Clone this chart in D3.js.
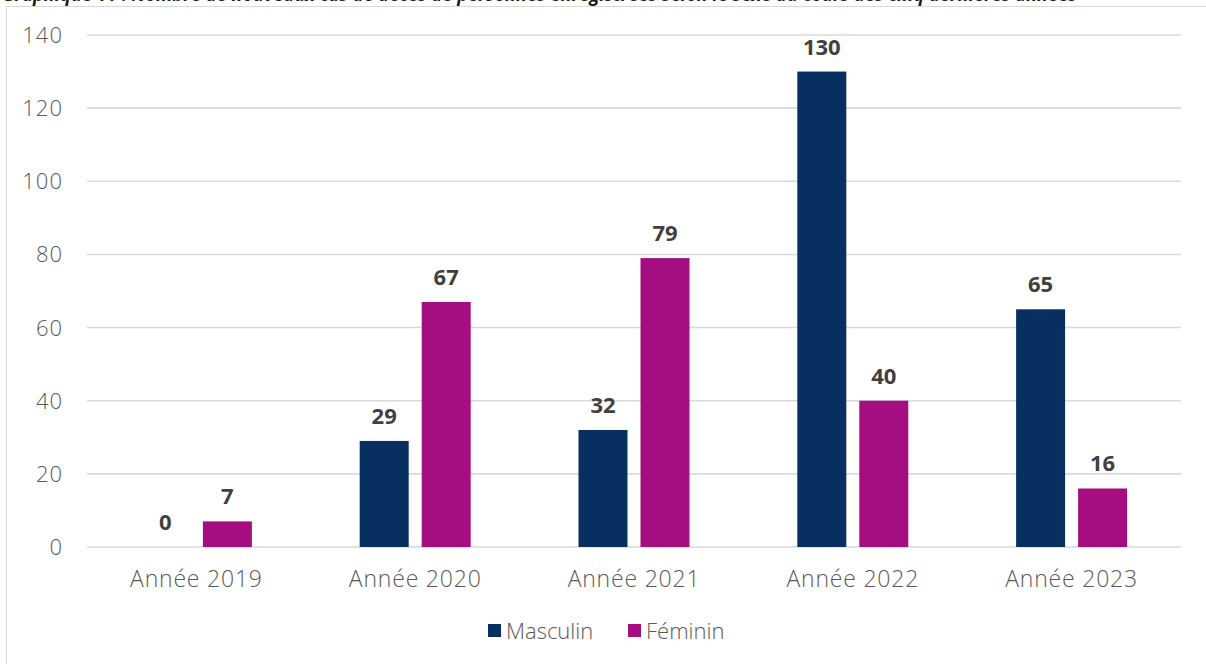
<!DOCTYPE html>
<html>
<head>
<meta charset="utf-8">
<script src="https://cdn.jsdelivr.net/npm/d3@7"></script>
<style>
  body { margin: 0; background: #fff; }
  svg { display: block; font-family: "Open Sans", sans-serif; }
</style>
</head>
<body>
<svg></svg>
<script>
const size = {w: 1206, h: 664};
const margin = {t: 35, r: 25, b: 117, l: 87};

// data
const years = ['Année 2019', 'Année 2020', 'Année 2021', 'Année 2022', 'Année 2023'];
const series = ['Masculin', 'Féminin'];
const masculin = [0, 29, 32, 130, 65];
const feminin = [7, 67, 79, 40, 16];
const yTicks = [0, 20, 40, 60, 80, 100, 120, 140];
const colors = ['#072f5f', '#a50e80'];
const title = 'Graphique 11 : Nombre de nouveaux cas de décès de personnes enregistrées selon le sexe au cours des cinq dernières années';

const values = [masculin, feminin];

const svg = d3.select('svg')
    .attr('width', size.w)
    .attr('height', size.h);

// title, cut off by the top edge as in the picture
svg.append('text')
    .attr('x', 2)
    .attr('y', 0.5)
    .attr('font-size', 19)
    .attr('font-weight', 'bold')
    .attr('font-style', 'italic')
    .attr('fill', '#1a1a1a')
    .attr('textLength', 1075)
    .attr('lengthAdjust', 'spacingAndGlyphs')
    .text(title);

// chart frame (runs off the right and bottom edges)
svg.append('rect')
    .attr('x', 6.5).attr('y', 6.5)
    .attr('width', 1300).attr('height', 700)
    .attr('fill', 'none')
    .attr('stroke', '#d9d9d9');

const innerW = size.w - margin.l - margin.r;
const innerH = size.h - margin.t - margin.b;

const g = svg.append('g').attr('transform', `translate(${margin.l},${margin.t})`);

const x0 = d3.scaleBand().domain(years).range([0, innerW]);
const bw = x0.bandwidth();
const x1 = d3.scaleBand().domain(series)
    .range([bw / 2 - 55.5, bw / 2 + 55.5])
    .paddingInner(13 / 62);
const y = d3.scaleLinear().domain([0, 140]).range([innerH, 0]);

// gridlines
g.append('g')
    .selectAll('line')
    .data(yTicks)
    .enter()
    .append('line')
    .attr('x1', 0).attr('x2', innerW)
    .attr('y1', d => y(d)).attr('y2', d => y(d))
    .attr('stroke', '#d9d9d9')
    .attr('stroke-width', 1.6);

// y axis labels
g.append('g')
    .selectAll('text')
    .data(yTicks)
    .enter()
    .append('text')
    .attr('x', -24)
    .attr('y', d => y(d) + 8)
    .attr('text-anchor', 'end')
    .attr('font-size', 22)
    .attr('font-weight', 300)
    .attr('letter-spacing', 1)
    .attr('fill', '#595959')
    .text(d => String(d));

// one record per bar
const barData = [];
years.forEach((yr, i) => {
    series.forEach((s, j) => {
        barData.push({year: yr, s: s, j: j, v: values[j][i], label: String(values[j][i])});
    });
});

const barsG = g.append('g');
barsG.selectAll('rect')
    .data(barData)
    .enter()
    .append('rect')
    .attr('x', d => x0(d.year) + x1(d.s))
    .attr('width', x1.bandwidth())
    .attr('y', d => y(d.v))
    .attr('height', d => innerH - y(d.v))
    .attr('fill', d => colors[d.j]);

const labelsG = g.append('g');
labelsG.selectAll('text')
    .data(barData)
    .enter()
    .append('text')
    .attr('x', d => x0(d.year) + x1(d.s) + x1.bandwidth() / 2)
    .attr('y', d => y(d.v) - 17)
    .attr('text-anchor', 'middle')
    .attr('font-size', 22)
    .attr('font-weight', 'bold')
    .attr('fill', '#404040')
    .text(d => d.label);

// x axis labels
g.append('g')
    .selectAll('text')
    .data(years)
    .enter()
    .append('text')
    .attr('x', d => x0(d) + bw / 2)
    .attr('y', innerH + 40)
    .attr('text-anchor', 'middle')
    .attr('font-size', 23)
    .attr('font-weight', 300)
    .attr('letter-spacing', 0.8)
    .attr('fill', '#595959')
    .text(d => d);

// legend
const legendX = [488, 628];
const legend = svg.append('g');
legend.selectAll('rect')
    .data(series)
    .enter()
    .append('rect')
    .attr('x', (d, i) => legendX[i])
    .attr('y', 624)
    .attr('width', 13).attr('height', 13)
    .attr('fill', (d, i) => colors[i]);
legend.selectAll('text')
    .data(series)
    .enter()
    .append('text')
    .attr('x', (d, i) => legendX[i] + 18)
    .attr('y', 639)
    .attr('font-size', 22)
    .attr('font-weight', 300)
    .attr('fill', '#595959')
    .text(d => d);
</script>
</body>
</html>
